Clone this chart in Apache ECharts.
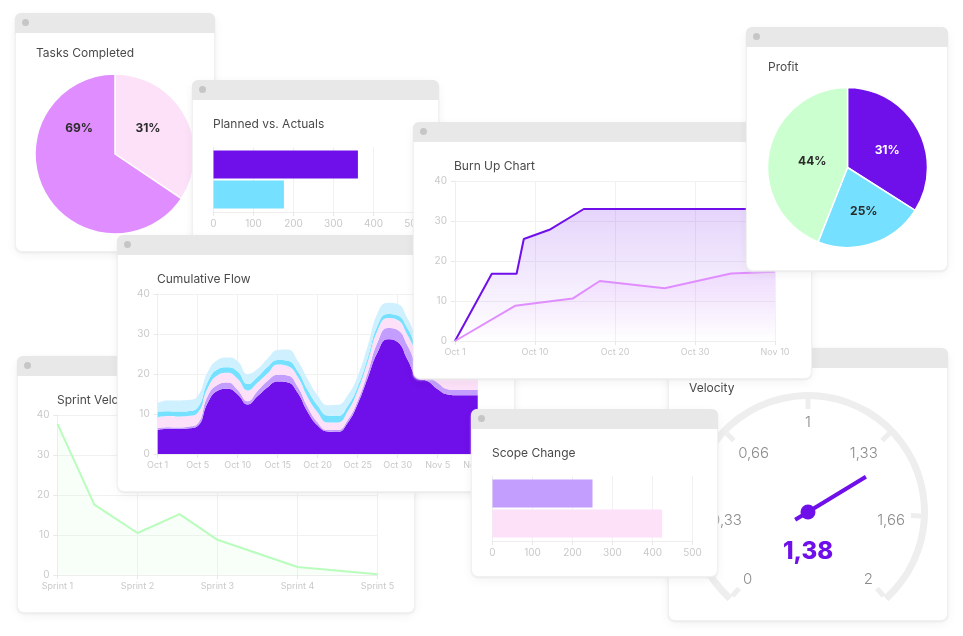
<!DOCTYPE html>
<html>
<head>
<meta charset="utf-8">
<script src="https://cdn.jsdelivr.net/npm/echarts@6/dist/echarts.min.js"></script>
<style>
html,body{margin:0;padding:0;background:#fff;width:963px;height:636px;overflow:hidden}
.card{position:absolute;background:#fff;border-radius:6px;box-shadow:0 0 0 1px #f1f1f1,0 1px 2px 1px #e9e9e9,0 3px 12px rgba(0,0,0,.06)}
.head{position:absolute;left:-1px;right:-1px;top:-1px;height:20px;background:#e8e8e8;border-radius:6px 6px 0 0}
.dot{position:absolute;left:7px;top:6px;width:7px;height:7px;border-radius:50%;background:#c6c6c6}
.chart{position:absolute;left:-1px;top:-1px;width:calc(100% + 2px);height:calc(100% + 2px)}
</style>
</head>
<body>
<script>
const FONT = 'Inter';
const PURPLE = '#6F0FE9', LILAC = '#C39EFF', PINK = '#FCE1F9', ORCHID = '#E08EFF', CYAN = '#75E0FF', ICE = '#CFF0FF', MINT = '#CCFFD0', SPRINT_LINE = '#B9FDBD';

// Tasks Completed
const tasksLabels = ['31%', '69%'];
const tasksShares = [34.4, 65.6];

// Profit
const profitLabels = ['31%', '25%', '44%'];
const profitShares = [34, 22, 44];

// Planned vs. Actuals
const plannedValue = [361];
const actualValue = [176];
const barTicks = [0, 100, 200, 300, 400, 500];

// Scope Change
const scopeBefore = [250];
const scopeAfter = [424];

// Burn Up
const burnTicks = ['Oct 1', 'Oct 10', 'Oct 20', 'Oct 30', 'Nov 10'];
const burnScope = [[0, 0], [4.6, 16.8], [7.7, 16.8], [8.6, 25.5], [11.8, 27.8], [16.1, 33], [40, 33]];
const burnDone = [[0, 0], [7.5, 8.8], [14.7, 10.6], [18.1, 15], [26.2, 13.2], [34.5, 16.9], [40, 17.3]];

// Cumulative Flow
const flowTicks = ['Oct 1', 'Oct 5', 'Oct 10', 'Oct 15', 'Oct 20', 'Oct 25', 'Oct 30', 'Nov 5', 'Nov 10'];
const flowDone = [6.0,6.3,6.3,6.4,7.0,12.8,15.8,16.3,14.9,12.4,14.5,16.7,18.1,17.9,15.3,10.5,7.1,5.6,5.5,7.8,12.5,19.0,25.5,28.7,28.0,23.5,19.0,18.2,16.2,14.9,14.7,14.7,14.7];
const flowReview = [0.5,0.4,0.3,0.4,0.6,1.7,1.5,1.6,1.1,0.8,1.3,1.6,1.7,1.7,1.5,1.2,0.8,0.4,0.5,0.7,0.8,1.3,2.5,2.8,3.0,3.5,3.0,1.6,1.6,1.3,1.3,1.3,1.3];
const flowDoing = [2.7,2.8,2.8,2.7,2.7,2.0,2.4,2.4,2.8,2.7,2.1,1.9,2.6,2.4,2.5,2.5,2.5,1.9,1.9,2.2,2.5,2.7,3.0,2.5,2.5,2.7,3.2,3.2,3.2,3.0,3.0,3.0,3.0];
const flowReady = [1.4,1.2,1.2,1.2,1.3,1.5,1.5,1.4,1.8,1.6,1.4,1.6,1.1,1.3,1.4,1.8,1.7,1.7,1.6,1.3,1.0,1.0,1.2,1.0,1.1,1.6,1.3,1.5,1.5,1.6,1.5,1.5,1.5];
const flowBacklog = [2.2,2.7,2.8,2.8,2.9,2.5,2.3,2.4,2.6,2.5,2.0,2.1,2.5,2.8,2.6,2.7,2.5,2.6,2.8,2.7,2.7,3.0,3.1,2.8,2.9,2.5,2.5,2.5,2.5,2.4,2.5,2.5,2.5];

// Sprint Velocity
const sprintTicks = ['Sprint 1', 'Sprint 2', 'Sprint 3', 'Sprint 4', 'Sprint 5'];
const sprintPoints = [[1, 37.8], [1.46, 17.6], [2, 10.5], [2.525, 15.2], [3, 8.8], [4, 2], [5, 0.2]];

// Velocity gauge
const gaugeTicks = ['0', '0,33', '0,66', '1', '1,33', '1,66', '2'];
const gaugeNeedle = 1.425;
const gaugeText = '1,38';

function makeCard(x, y, w, h, titleText, titleX, titleY, build) {
  const c = document.createElement('div');
  c.className = 'card';
  c.style.cssText = `left:${x + 1}px;top:${y + 1}px;width:${w - 2}px;height:${h - 2}px`;
  c.innerHTML = '<div class="head"><div class="dot"></div></div><div class="chart"></div>';
  document.body.appendChild(c);
  const chart = echarts.init(c.querySelector('.chart'));
  const opt = build();
  opt.animation = false;
  opt.title = { text: titleText, left: titleX, top: titleY - 7, padding: 0,
    textStyle: { fontFamily: FONT, fontSize: 12, fontWeight: 400, color: '#4a4a4a', lineHeight: 14 } };
  chart.setOption(opt);
}
const axisText = { fontFamily: FONT, fontSize: 9, color: '#c9c9c9' };
const gridLine = { show: true, lineStyle: { color: '#f1f1f1', width: 1 } };
const axisEdge = { show: true, lineStyle: { color: '#eeeeee', width: 1 } };
const tick = { show: true, length: 4, lineStyle: { color: '#e8e8e8' } };

function valueY() {
  return { type: 'value', min: 0, max: 40, interval: 10, axisLabel: { ...axisText, fontSize: 10, margin: 8 },
    axisLine: axisEdge, axisTick: tick, splitLine: gridLine };
}
function pie(center, shares, labels, colors, labelColors, offsets) {
  return { series: [{ type: 'pie', radius: 80, center, startAngle: 90, clockwise: true,
    silent: true, itemStyle: { borderColor: '#fff', borderWidth: 1.5 },
    labelLine: { show: false },
    data: shares.map((v, i) => ({ value: v, name: labels[i], itemStyle: { color: colors[i] },
      label: { show: true, position: 'inside', formatter: labels[i], offset: offsets[i], color: labelColors[i],
        fontFamily: FONT, fontSize: 12, fontWeight: 700 } })) }] };
}
function bars(first, second, c1, c2) {
  return {
    grid: { left: 21.5, top: 67, width: 200, height: 65 },
    xAxis: { type: 'value', min: barTicks[0], max: barTicks[barTicks.length - 1], interval: 100,
      axisLabel: { ...axisText, fontSize: 10, margin: 7 }, axisLine: axisEdge, axisTick: tick, splitLine: gridLine },
    yAxis: { type: 'category', inverse: true, data: [''], axisLine: axisEdge, axisTick: { show: false }, axisLabel: { show: false } },
    series: [
      { type: 'bar', data: first, barWidth: 28, barGap: '7%', itemStyle: { color: c1 } },
      { type: 'bar', data: second, barWidth: 28, barGap: '7%', itemStyle: { color: c2 } }
    ]
  };
}

makeCard(15, 13, 200, 239, 'Tasks Completed', 21, 40, () =>
  pie([100, 141], tasksShares, tasksLabels, [PINK, ORCHID], ['#2b2b2b', '#2b2b2b'], [[-5, -5], [2, -46]]));

makeCard(192, 80, 247, 168, 'Planned vs. Actuals', 21, 44, () => bars(plannedValue, actualValue, PURPLE, CYAN));

makeCard(17, 356, 398, 257, 'Sprint Velocity', 40, 44, () => ({
  grid: { left: 40.5, top: 59, width: 320, height: 160 },
  xAxis: { type: 'value', min: 1, max: 5, interval: 1, axisLabel: { ...axisText, formatter: v => sprintTicks[v - 1] || '', margin: 7 },
    axisLine: axisEdge, axisTick: tick, splitLine: gridLine },
  yAxis: valueY(),
  series: [{ type: 'line', data: sprintPoints, symbol: 'none', lineStyle: { color: SPRINT_LINE, width: 2 },
    areaStyle: { color: 'rgba(204,255,208,0.2)' } }]
}));

makeCard(668, 348, 280, 273, 'Velocity', 21, 40, () => {
  const labelFont = { color: '#8c8c8c', fontFamily: FONT, fontSize: 15, fontWeight: 300 };
  // vertical padding and a wider aligned box nudge each tick label to where the reference puts it
  const nudges = [[0, 0, 10, 0], [10, 0, 0, 0], [18, 0, 0, 0], [0, 0, 0, 0], [18, 0, 0, 0], [10, 0, 0, 0], [0, 0, 10, 0]];
  const rich = {};
  nudges.forEach((p, i) => { rich['t' + i] = { ...labelFont, padding: p }; });
  Object.assign(rich.t2, { width: 48, align: 'left' });
  Object.assign(rich.t4, { width: 46, align: 'right' });
  return {
    series: [{ type: 'gauge', center: [140, 164], radius: 120, min: 0, max: 2, startAngle: 228, endAngle: -48, splitNumber: 6,
      axisLine: { lineStyle: { width: 7, color: [[1, '#eeeeee']] } },
      splitLine: { show: true, distance: 0, length: 10, lineStyle: { color: '#eeeeee', width: 5 } },
      axisTick: { show: false },
      axisLabel: { distance: 13, ...labelFont, rich,
        formatter: v => { const i = Math.round(v * 3); return `{t${i}|${gaugeTicks[i]}}`; } },
      pointer: { icon: 'rect', length: '69%', width: 4, offsetCenter: [0, 15], itemStyle: { color: PURPLE } },
      anchor: { show: true, showAbove: true, size: 15, itemStyle: { color: PURPLE, borderWidth: 0 } },
      title: { show: false },
      detail: { valueAnimation: false, offsetCenter: [0, 40], formatter: () => gaugeText, color: PURPLE,
        fontFamily: FONT, fontSize: 24, fontWeight: 800 },
      data: [{ value: gaugeNeedle }] }]
  };
});

makeCard(117, 235, 398, 257, 'Cumulative Flow', 40, 44, () => {
  const layers = [[flowDone, PURPLE], [flowReview, LILAC], [flowDoing, PINK], [flowReady, CYAN], [flowBacklog, ICE]];
  return {
    grid: { left: 40.7, top: 59, width: 320, height: 160 },
    xAxis: { type: 'category', boundaryGap: false, data: flowDone.map((_, i) => String(i)),
      axisLabel: { ...axisText, interval: 3, formatter: (_, i) => flowTicks[i / 4] || '', margin: 7 },
      axisTick: { ...tick, interval: 3 }, axisLine: axisEdge, splitLine: { ...gridLine, interval: 3 } },
    yAxis: valueY(),
    series: layers.map(([d, c]) => ({ type: 'line', stack: 'flow', data: d, smooth: 0.5, symbol: 'none',
      lineStyle: { width: 0 }, areaStyle: { color: c, opacity: 1 } }))
  };
});

makeCard(413, 122, 399, 257, 'Burn Up Chart', 41, 44, () => ({
  grid: { left: 42, top: 59, width: 320, height: 160 },
  xAxis: { type: 'value', min: 0, max: 40, interval: 10, axisLabel: { ...axisText, formatter: v => burnTicks[v / 10], margin: 7 },
    axisLine: axisEdge, axisTick: tick, splitLine: gridLine },
  yAxis: valueY(),
  series: [
    { type: 'line', data: burnScope, symbol: 'none', lineStyle: { color: PURPLE, width: 2 },
      areaStyle: { color: new echarts.graphic.LinearGradient(0, 0, 0, 1, [{ offset: 0, color: 'rgba(111,15,233,0.25)' }, { offset: 1, color: 'rgba(111,15,233,0)' }]) } },
    { type: 'line', data: burnDone, symbol: 'none', lineStyle: { color: ORCHID, width: 2 },
      areaStyle: { color: new echarts.graphic.LinearGradient(0, 0, 0, 1, [{ offset: 0, color: 'rgba(224,142,255,0.22)' }, { offset: 1, color: 'rgba(224,142,255,0)' }]) } }
  ]
}));

makeCard(746, 27, 202, 244, 'Profit', 22, 40, () =>
  pie([101.5, 140.5], profitShares, profitLabels, [PURPLE, CYAN, MINT], ['#ffffff', '#2b2b2b', '#2b2b2b'], [[2, 4], [3, 2.5], [7, 2]]));

makeCard(471, 409, 247, 168, 'Scope Change', 21, 44, () => bars(scopeBefore, scopeAfter, LILAC, PINK));
</script>
</body>
</html>
